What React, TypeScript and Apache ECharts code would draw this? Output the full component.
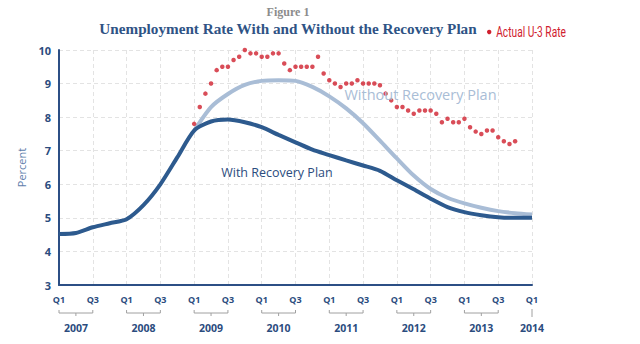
import React, { useEffect, useRef } from "react";
import * as echarts from "echarts";

// quarter index 0 = 2007 Q1 ... 28 = 2014 Q1
const quarterIdx: number[] = Array.from({ length: 29 }, (_, i) => i);

const withPlan: number[] = [
  4.52, 4.55, 4.72, 4.84, 4.96, 5.38, 6.0, 6.8, 7.6, 7.87, 7.93, 7.85, 7.7,
  7.47, 7.25, 7.03, 6.87, 6.71, 6.56, 6.4, 6.12, 5.85, 5.57, 5.32, 5.17,
  5.08, 5.02, 5.0, 5.0,
];

const withoutPlan: (number | null)[] = [
  null, null, null, null, null, null, null, null, 7.6, 8.3, 8.69, 8.96, 9.08,
  9.1, 9.08, 8.9, 8.62, 8.26, 7.82, 7.3, 6.77, 6.26, 5.86, 5.6, 5.43, 5.3,
  5.2, 5.14, 5.1,
];

// monthly actual U-3, Jan 2009 .. Oct 2013
const actualU3: number[] = [
  7.8, 8.3, 8.7, 9.0, 9.4, 9.5, 9.5, 9.7, 9.8, 10.0, 9.9, 9.9,
  9.8, 9.8, 9.9, 9.9, 9.6, 9.4, 9.5, 9.5, 9.5, 9.5, 9.8, 9.3,
  9.1, 9.0, 8.9, 9.0, 9.0, 9.1, 9.0, 9.0, 9.0, 8.95, 8.7, 8.5,
  8.3, 8.3, 8.2, 8.1, 8.2, 8.2, 8.2, 8.1, 7.85, 7.95, 7.85, 7.85,
  7.95, 7.7, 7.57, 7.5, 7.6, 7.6, 7.4, 7.28, 7.2, 7.28,
];
const actualStart = 8; // 2009 Q1

const years: string[] = ["2007", "2008", "2009", "2010", "2011", "2012", "2013", "2014"];

const DARK = "#2d5a8e";
const LIGHT = "#a9bdd6";
const RED = "#d0202e";
const TEXT = "#2b4c7e";

export default function App() {
  const ref = useRef<HTMLDivElement>(null);
  useEffect(() => {
    document.body.style.margin = "0";
    if (!ref.current) return;
    const chart = echarts.init(ref.current, undefined, { renderer: "svg" });
    const sans = "'Open Sans', 'Noto Sans', sans-serif";
    chart.setOption({
      animation: false,
      title: [
        {
          text: "Figure 1",
          left: 283,
          top: 1,
          textAlign: "center",
          textStyle: { fontFamily: "'Liberation Serif', serif", fontSize: 12, fontWeight: "bold", color: "#8c8c8c" },
        },
        {
          text: "Unemployment Rate With and Without the Recovery Plan",
          left: 283,
          top: 16,
          textAlign: "center",
          textStyle: { fontFamily: "'Liberation Serif', serif", fontSize: 15.2, fontWeight: "bold", color: "#2f5385" },
        },
      ],
      graphic: [
        {
          type: "group",
          left: 487,
          top: 24,
          children: [
            { type: "circle", shape: { cx: 3, cy: 8, r: 2.2 }, style: { fill: RED } },
            {
              type: "text",
              x: 10,
              y: 0,
              scaleX: 0.68,
              style: {
                text: "Actual U-3 Rate",
                font: "15px Roboto, sans-serif",
                fill: RED,
              },
            },
          ],
        },
      ],
      grid: { left: 59, right: 108, top: 50, bottom: 59 },
      xAxis: {
        type: "value",
        min: 0,
        max: 28,
        interval: 2,
        axisLine: { show: true, lineStyle: { color: "#2c4f85", width: 2 } },
        axisTick: { show: false },
        axisLabel: {
          margin: 10,
          formatter: (v: number) => (v % 4 === 0 ? "Q1" : "Q3"),
          fontFamily: sans,
          fontSize: 9,
          fontWeight: "bold",
          color: TEXT,
        },
        splitLine: { show: true, lineStyle: { color: "#e3e3e3", type: [4, 3], width: 1 } },
      },
      yAxis: {
        type: "value",
        min: 3,
        max: 10,
        interval: 1,
        name: "Percent",
        nameLocation: "middle",
        nameGap: 32,
        nameTextStyle: { fontFamily: sans, fontSize: 11, color: "#5d7dab" },
        axisLine: { show: true, lineStyle: { color: "#2c4f85", width: 2 } },
        axisTick: { show: false },
        axisLabel: { margin: 8, fontFamily: sans, fontSize: 11, fontWeight: "bold", color: TEXT },
        splitLine: { show: true, lineStyle: { color: "#e3e3e3", type: [4, 3], width: 1 } },
      },
      series: [
        {
          name: "Without Recovery Plan",
          type: "line",
          data: quarterIdx.map((i) => [i, withoutPlan[i]]),
          smooth: 0.25,
          symbol: "none",
          lineStyle: { color: LIGHT, width: 4 },
          z: 2,
          markPoint: {
            symbol: "rect",
            symbolSize: 0,
            data: [{ coord: [21.4, 8.68] }],
            label: {
              show: true,
              formatter: "Without Recovery Plan",
              fontFamily: sans,
              fontSize: 14.5,
              color: LIGHT,
            },
          },
        },
        {
          name: "With Recovery Plan",
          type: "line",
          data: quarterIdx.map((i) => [i, withPlan[i]]),
          smooth: 0.25,
          symbol: "none",
          lineStyle: { color: DARK, width: 4 },
          z: 3,
          markPoint: {
            symbol: "rect",
            symbolSize: 0,
            data: [{ coord: [12.9, 6.36] }],
            label: {
              show: true,
              formatter: "With Recovery Plan",
              fontFamily: sans,
              fontSize: 12.5,
              fontWeight: 500,
              color: TEXT,
            },
          },
        },
        {
          name: "Actual U-3 Rate",
          type: "scatter",
          data: actualU3.map((v, m) => [actualStart + m / 3, v]),
          symbol: "circle",
          symbolSize: 4.5,
          itemStyle: { color: RED },
          z: 4,
        },
        {
          name: "years",
          type: "custom",
          data: years.map((y, k) => [k * 4, k]),
          clip: false,
          silent: true,
          renderItem: (params: any, api: any) => {
            const start = api.value(0);
            const k = api.value(1);
            const x0 = api.coord([start, 3])[0];
            const base = api.coord([start, 3])[1];
            const by = base + 28;
            const stroke = { stroke: "#a0a0a0", lineWidth: 1 };
            const children: any[] = [];
            let cx = x0;
            if (k < years.length - 1) {
              const x2 = api.coord([start + 2, 3])[0];
              cx = (x0 + x2) / 2;
              children.push({
                type: "polyline",
                shape: { points: [[x0, by - 3], [x0, by], [x2, by], [x2, by - 3]] },
                style: { ...stroke, fill: null },
              });
              children.push({ type: "line", shape: { x1: cx, y1: by, x2: cx, y2: by + 3 }, style: stroke });
            } else {
              children.push({ type: "line", shape: { x1: cx, y1: by - 4, x2: cx, y2: by + 4 }, style: stroke });
            }
            children.push({
              type: "text",
              style: {
                text: years[k],
                x: cx,
                y: by + 15,
                align: "center",
                verticalAlign: "middle",
                font: "bold 10.5px 'Open Sans', sans-serif",
                fill: TEXT,
              },
            });
            return { type: "group", children };
          },
        },
      ],
    });
    return () => chart.dispose();
  }, []);
  return <div ref={ref} style={{ width: 640, height: 344 }} />;
}
